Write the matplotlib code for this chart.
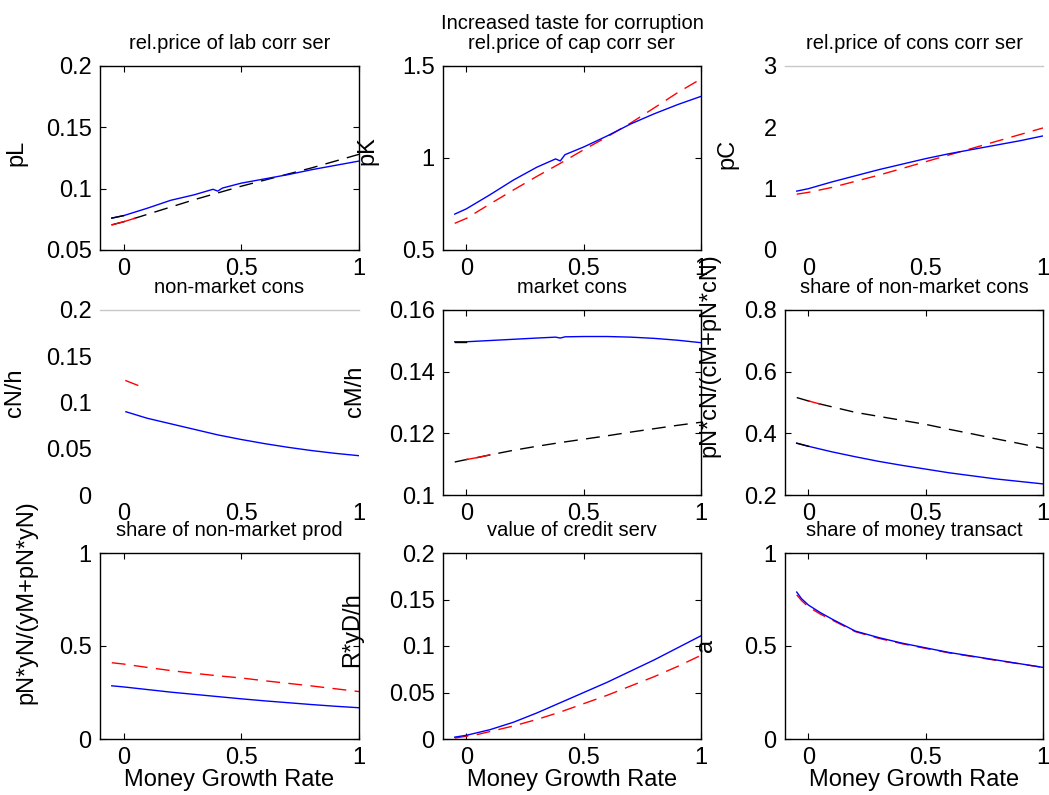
"""corruption_mgr.py - 9 panel response to money growth rate"""
import matplotlib
matplotlib.use("Agg")
import matplotlib.pyplot as plt

plt.rcParams["font.family"] = ["Liberation Sans Narrow", "Liberation Sans", "DejaVu Sans"]

# x grids (money growth rate)
X = [-0.05, 0, 0.05, 0.1, 0.2, 0.3, 0.4, 0.5, 0.6, 0.7, 0.8, 0.9, 1.0]
X_GL = [-0.05, 0, 0.05, 0.1, 0.2, 0.3, 0.38, 0.40, 0.42, 0.5, 0.6, 0.7, 0.8, 0.9, 1.0]
X_CN = [0.01, 0.1, 0.2, 0.3, 0.4, 0.5, 0.6, 0.7, 0.8, 0.9, 1.0]
X_CN_RED = [0.01, 0.06]
X_A = [-0.05, -0.03, 0, 0.05, 0.1, 0.2, 0.3, 0.4, 0.5, 0.6, 0.7, 0.8, 0.9, 1.0]

pL_solid = [0.076, 0.078, 0.081, 0.084, 0.0905, 0.095, 0.0995, 0.098, 0.1005,
            0.1045, 0.108, 0.1115, 0.1155, 0.119, 0.1225]
pL_dash = [0.0705, 0.073, 0.076, 0.079, 0.085, 0.091, 0.0965, 0.102, 0.107,
           0.112, 0.117, 0.1225, 0.128]
pK_solid = [0.695, 0.724, 0.762, 0.80, 0.88, 0.95, 0.995, 0.984, 1.018,
            1.06, 1.12, 1.185, 1.24, 1.29, 1.335]
pK_dash = [0.645, 0.672, 0.711, 0.75, 0.826, 0.90, 0.971, 1.045, 1.115,
           1.19, 1.272, 1.355, 1.43]
pC_solid = [0.96, 1.0, 1.055, 1.11, 1.21, 1.31, 1.40, 1.49, 1.57, 1.64, 1.71, 1.78, 1.86]
pC_dash = [0.91, 0.94, 0.98, 1.02, 1.12, 1.22, 1.33, 1.44, 1.55, 1.66, 1.77, 1.88, 1.99]
cN_solid = [0.09, 0.083, 0.077, 0.071, 0.065, 0.060, 0.0555, 0.0515, 0.048, 0.045, 0.0425]
cN_red = [0.1236, 0.1186]
cM_solid = [0.1497, 0.1497, 0.1499, 0.1501, 0.1505, 0.1509, 0.1512, 0.1509, 0.1513,
            0.1514, 0.1514, 0.1512, 0.1508, 0.1502, 0.1494]
cM_dash = [0.1107, 0.1115, 0.1122, 0.113, 0.1145, 0.1158, 0.117, 0.1181, 0.1192,
           0.1204, 0.1215, 0.1226, 0.1236]
shN_solid = [0.368, 0.358, 0.349, 0.34, 0.324, 0.309, 0.296, 0.284, 0.272,
             0.262, 0.252, 0.244, 0.236]
shN_dash = [0.516, 0.505, 0.495, 0.486, 0.468, 0.455, 0.442, 0.429, 0.413,
            0.398, 0.382, 0.367, 0.351]
prN_solid = [0.286, 0.28, 0.273, 0.266, 0.252, 0.24, 0.228, 0.216, 0.205,
             0.195, 0.185, 0.176, 0.168]
prN_dash = [0.41, 0.403, 0.394, 0.385, 0.368, 0.353, 0.34, 0.328, 0.313,
            0.299, 0.285, 0.27, 0.255]
cr_solid = [0.002, 0.004, 0.007, 0.01, 0.018, 0.028, 0.039, 0.05, 0.061,
            0.073, 0.085, 0.098, 0.111]
cr_dash = [0.001, 0.003, 0.005, 0.008, 0.014, 0.021, 0.029, 0.038, 0.047,
           0.057, 0.067, 0.078, 0.09]
a_solid = [0.79, 0.755, 0.72, 0.68, 0.645, 0.58, 0.545, 0.515, 0.49, 0.465,
           0.445, 0.425, 0.405, 0.385]
a_dash = [0.775, 0.745, 0.71, 0.672, 0.64, 0.577, 0.541, 0.512, 0.487, 0.463,
          0.443, 0.423, 0.404, 0.385]

TITLES = ["rel.price of lab corr ser", "rel.price of cap corr ser", "rel.price of cons corr ser",
          "non-market cons", "market cons", "share of non-market cons",
          "share of non-market prod", "value of credit serv", "share of money transact"]
YLABELS = ["pL", "pK", "pC", "cN/h", "cM/h", "pN*cN/(cM+pN*cN)",
           "pN*yN/(yM+pN*yN)", "R*yD/h", "a"]
YTICKS = [[0.05, 0.1, 0.15, 0.2], [0.5, 1, 1.5], [0, 1, 2, 3],
          [0, 0.05, 0.1, 0.15, 0.2], [0.1, 0.12, 0.14, 0.16], [0.2, 0.4, 0.6, 0.8],
          [0, 0.5, 1], [0, 0.05, 0.1, 0.15, 0.2], [0, 0.5, 1]]
YTICKLABELS = [["0.05", "0.1", "0.15", "0.2"], ["0.5", "1", "1.5"], ["0", "1", "2", "3"],
               ["0", "0.05", "0.1", "0.15", "0.2"], ["0.1", "0.12", "0.14", "0.16"],
               ["0.2", "0.4", "0.6", "0.8"], ["0", "0.5", "1"],
               ["0", "0.05", "0.1", "0.15", "0.2"], ["0", "0.5", "1"]]
XTICKS = [0, 0.5, 1]
XTICKLABELS = ["0", "0.5", "1"]

W, H = 1049, 795
fig = plt.figure(figsize=(W / 100, H / 100), dpi=100)

col_x = [100, 443, 785]
col_w = [259, 258, 258]
row_y = [(66, 250), (310, 495), (553, 739)]
# ylabel anchor (axes coords) per panel
lab_pos = [(-0.28, 0.53), (-0.25, 0.54), (-0.18, 0.52),
           (-0.285, 0.55), (-0.30, 0.56), (-0.25, 0.757),
           (-0.243, 0.737), (-0.31, 0.586), (-0.264, 0.505)]

DASH = (0, (10, 6))
axes = []
for i in range(9):
    r, c = divmod(i, 3)
    top, bot = row_y[r]
    ax = fig.add_axes([col_x[c] / W, 1 - bot / H, col_w[c] / W, (bot - top) / H])
    ax.set_xlim(-0.1, 1)
    ax.set_ylim(YTICKS[i][0], YTICKS[i][-1])
    ax.set_xticks(XTICKS, XTICKLABELS)
    ax.set_yticks(YTICKS[i], YTICKLABELS[i])
    ax.tick_params(direction="in", top=True, right=True, length=4, width=0.8,
                   labelsize=17, pad=6)
    for s in ax.spines.values():
        s.set_linewidth(1.0)
    ax.set_title(TITLES[i], fontsize=14.5, pad=12)
    ax.set_ylabel(YLABELS[i], fontsize=17)
    ax.yaxis.set_label_coords(*lab_pos[i])
    if r == 2:
        ax.set_xlabel("Money Growth Rate", fontsize=17, labelpad=0)
    axes.append(ax)

# panels without box: only a light top line
for i in (2, 3):
    ax = axes[i]
    for side in ("left", "right", "bottom"):
        ax.spines[side].set_visible(False)
    ax.spines["top"].set_color("#c8c8c8")
    ax.tick_params(length=0)

LW = 1.0
# 1 pL
ax = axes[0]
ax.plot(X, pL_dash, color="k", lw=LW, linestyle=DASH)
ax.plot(X[:3], pL_dash[:3], color="red", lw=LW)
ax.plot(X_GL, pL_solid, color="blue", lw=LW)
ax.plot(X_GL[:2], pL_solid[:2], color="k", lw=LW)
# 2 pK
ax = axes[1]
ax.plot(X, pK_dash, color="red", lw=LW, linestyle=DASH)
ax.plot(X_GL, pK_solid, color="blue", lw=LW)
ax.text(0.5, 1.2, "Increased taste for corruption", transform=ax.transAxes,
        ha="center", va="baseline", fontsize=14.5)
# 3 pC
ax = axes[2]
ax.plot(X, pC_dash, color="red", lw=LW, linestyle=DASH)
ax.plot(X, pC_solid, color="blue", lw=LW)
# 4 cN
ax = axes[3]
ax.plot(X_CN, cN_solid, color="blue", lw=LW)
ax.plot(X_CN_RED, cN_red, color="red", lw=LW)
# 5 cM
ax = axes[4]
ax.plot(X, cM_dash, color="k", lw=LW, linestyle=DASH)
ax.plot(X[1:4], cM_dash[1:4], color="red", lw=LW)
ax.plot(X_GL, cM_solid, color="blue", lw=LW)
ax.plot(X_GL[:2], cM_solid[:2], color="k", lw=LW)
# 6 share non-market cons
ax = axes[5]
ax.plot(X, shN_dash, color="k", lw=LW, linestyle=DASH)
ax.plot(X[1:3], shN_dash[1:3], color="red", lw=LW)
ax.plot(X, shN_solid, color="blue", lw=LW)
ax.plot(X[:2], shN_solid[:2], color="k", lw=LW)
# 7 share non-market prod
ax = axes[6]
ax.plot(X, prN_dash, color="red", lw=LW, linestyle=DASH)
ax.plot(X, prN_solid, color="blue", lw=LW)
# 8 credit serv
ax = axes[7]
ax.plot(X, cr_dash, color="red", lw=LW, linestyle=DASH)
ax.plot(X, cr_solid, color="blue", lw=LW)
# 9 share of money transact
ax = axes[8]
ax.plot(X_A, a_dash, color="red", lw=LW, linestyle=DASH)
ax.plot(X_A, a_solid, color="blue", lw=LW)

fig.savefig("out.png", dpi=100)
print("saved out.png")
